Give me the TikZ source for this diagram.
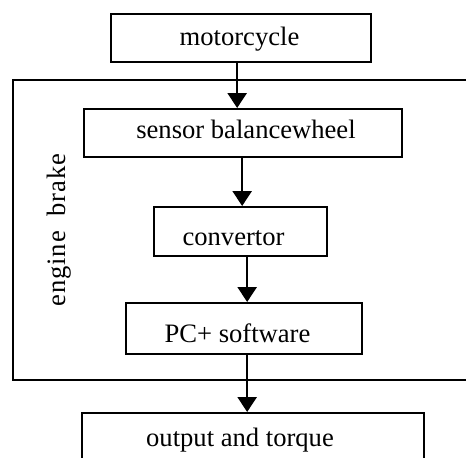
\documentclass[tikz,border=0pt]{standalone}
\usepackage{fontspec}
\setmainfont{Liberation Serif}
\usetikzlibrary{arrows.meta}
\begin{document}
\begin{tikzpicture}[x=0.5pt,y=-0.5pt,
  box/.style={draw, line width=1.15pt, inner sep=0pt, anchor=north west},
  txt/.style={inner sep=0pt, anchor=base, font=\fontsize{13.3}{16}\selectfont},
  arr/.style={line width=1.3pt, -{Triangle[length=7.5pt,width=9.5pt]}}]
\clip (0,0) rectangle (466,457);
% outer frame (runs off the right edge)
\node[box, minimum width=260pt, minimum height=150pt] (frame) at (12,79) {};
% boxes
\node[box, minimum width=130pt, minimum height=24pt] (moto) at (110,13) {};
\node[box, minimum width=159pt, minimum height=24pt] (sensor) at (83,108) {};
\node[box, minimum width=86.5pt, minimum height=24.5pt] (conv) at (153,206) {};
\node[box, minimum width=118pt, minimum height=25.5pt] (pc) at (125,302) {};
\node[box, minimum width=171pt, minimum height=40pt] (out) at (81,412) {};
% labels
\node[txt] (tmoto) at (239.5,45) {motorcycle};
\node[txt] (tsensor) at (246,138) {sensor balancewheel};
\node[txt] (tconv) at (233.5,245) {convertor};
\node[txt] (tpc) at (237.5,342) {PC+ software};
\node[txt] (tout) at (240,446) {output and torque};
\node[txt, rotate=90, font=\fontsize{13.3}{16}\selectfont\addfontfeatures{LetterSpace=3}] (tframe) at (65,230) {engine\ \ brake};
% connectors
\draw[arr] ([xshift=-2pt]moto.south) -- ([xshift=-2pt]moto.south |- sensor.north);
\draw[arr] ([xshift=-0.5pt]sensor.south) -- ([xshift=-0.5pt]sensor.south |- conv.north);
\draw[arr] ([xshift=3.25pt]conv.south) -- ([xshift=3.25pt]conv.south |- pc.north);
\draw[arr] ([xshift=1.5pt]pc.south) -- ([xshift=1.5pt]pc.south |- out.north);
\end{tikzpicture}
\end{document}
